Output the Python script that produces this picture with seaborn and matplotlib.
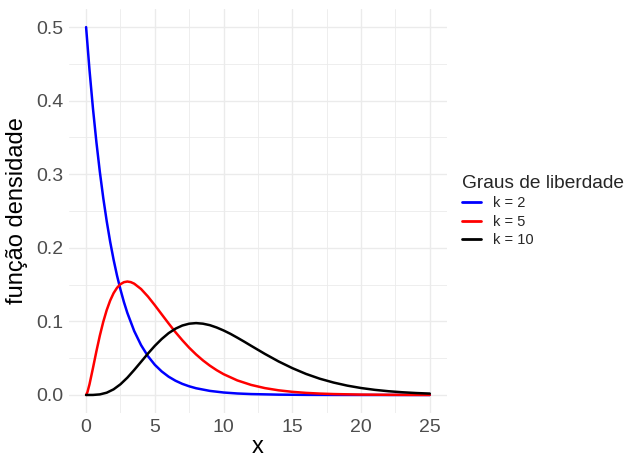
import numpy as np
import pandas as pd
import matplotlib
matplotlib.use("Agg")
import matplotlib.pyplot as plt
import seaborn as sns
from matplotlib.ticker import MultipleLocator

# values
x_k2 = [0, 0.25, 0.5, 0.75, 1, 1.25, 1.5, 1.75, 2, 2.25, 2.5, 2.75, 3, 3.5, 4, 4.5, 5, 5.5, 6,
        6.5, 7, 7.5, 8, 9, 10, 11, 12, 14, 16, 18, 20, 25]
y_k2 = [0.5, 0.4412, 0.3894, 0.3437, 0.3033, 0.2676, 0.2362, 0.2084, 0.1839, 0.1623, 0.1433,
        0.1264, 0.1116, 0.0869, 0.0677, 0.0527, 0.0410, 0.0320, 0.0249, 0.0194, 0.0151, 0.0118,
        0.00916, 0.00556, 0.00337, 0.00204, 0.00124, 0.00046, 0.00017, 0.00006, 0.00002, 0.000002]

x_k5 = [0, 0.1, 0.25, 0.5, 0.75, 1, 1.25, 1.5, 1.75, 2, 2.25, 2.5, 2.75, 3, 3.25, 3.5, 4, 4.5,
        5, 5.5, 6, 6.5, 7, 7.5, 8, 8.5, 9, 9.5, 10, 11, 12, 13, 14, 15, 16, 17, 18, 20, 22, 25]
y_k5 = [0.0, 0.0040, 0.01467, 0.0366, 0.0594, 0.0807, 0.0995, 0.1154, 0.1283, 0.1384, 0.1457,
        0.1506, 0.1533, 0.1542, 0.1534, 0.1513, 0.1440, 0.1338, 0.1220, 0.1096, 0.0973, 0.0854,
        0.0744, 0.0642, 0.0551, 0.0470, 0.0399, 0.0337, 0.0283, 0.0198, 0.0137, 0.00937, 0.00635,
        0.00427, 0.00285, 0.0019, 0.00125, 0.00054, 0.00023, 0.000062]

x_k10 = [0, 0.5, 1, 1.5, 2, 2.5, 3, 3.5, 4, 4.5, 5, 5.5, 6, 6.5, 7, 7.5, 8, 8.5, 9, 9.5, 10,
         10.5, 11, 11.5, 12, 13, 14, 15, 16, 17, 18, 19, 20, 21, 22, 23, 24, 25]
y_k10 = [0.0, 0.0000634, 0.00079, 0.00311, 0.00766, 0.01457, 0.0235, 0.0340, 0.0451, 0.0563,
         0.0668, 0.0761, 0.0840, 0.0901, 0.0944, 0.0969, 0.0977, 0.0969, 0.0949, 0.0917, 0.0877,
         0.0831, 0.0779, 0.0725, 0.0669, 0.0559, 0.0456, 0.0365, 0.0286, 0.0221, 0.0169, 0.0127,
         0.00946, 0.00697, 0.00509, 0.00369, 0.00265, 0.0019]

labels = ["k = 2", "k = 5", "k = 10"]
colors = ["blue", "red", "black"]

df = pd.concat([
    pd.DataFrame({"x": x_k2, "y": y_k2, "k": labels[0]}),
    pd.DataFrame({"x": x_k5, "y": y_k5, "k": labels[1]}),
    pd.DataFrame({"x": x_k10, "y": y_k10, "k": labels[2]}),
], ignore_index=True)

sns.set_theme(style="white")
plt.rcParams["font.family"] = ["Liberation Sans", "DejaVu Sans"]

fig = plt.figure(figsize=(6.38, 4.59), dpi=100)
ax = fig.add_axes([0.108, 0.0994, 0.5926, 0.8816])

sns.lineplot(data=df, x="x", y="y", hue="k", hue_order=labels,
             palette=dict(zip(labels, colors)), linewidth=1.8, ax=ax, sort=False,
             estimator=None)

ax.set_xlim(-1.25, 26.25)
ax.set_ylim(-0.025, 0.525)
ax.xaxis.set_major_locator(MultipleLocator(5))
ax.xaxis.set_minor_locator(MultipleLocator(2.5))
ax.yaxis.set_major_locator(MultipleLocator(0.1))
ax.yaxis.set_minor_locator(MultipleLocator(0.05))
ax.set_yticks([0, 0.1, 0.2, 0.3, 0.4, 0.5])
ax.set_yticklabels(["0.0", "0.1", "0.2", "0.3", "0.4", "0.5"])
ax.set_xticks([0, 5, 10, 15, 20, 25])
ax.set_xticklabels(["0", "5", "10", "15", "20", "25"])

ax.grid(True, which="major", color="#EBEBEB", linewidth=1.0)
ax.grid(True, which="minor", color="#EBEBEB", linewidth=0.6)
ax.set_axisbelow(True)
for s in ax.spines.values():
    s.set_visible(False)
ax.tick_params(which="both", length=0, labelsize=14, labelcolor="#4D4D4D", pad=4)

ax.set_xlabel("x", fontsize=17, color="black", labelpad=0)
ax.set_ylabel("função densidade", fontsize=17, color="black", labelpad=6)

leg = ax.legend(title="Graus de liberdade", loc="center left", bbox_to_anchor=(1.025, 0.5),
                frameon=False, fontsize=10.5, title_fontsize=13.8, handlelength=1.3,
                handletextpad=0.8, labelspacing=0.3, borderaxespad=0)
leg._legend_box.align = "left"
for line in leg.get_lines():
    line.set_linewidth(2)

fig.savefig("out.png", dpi=100)
